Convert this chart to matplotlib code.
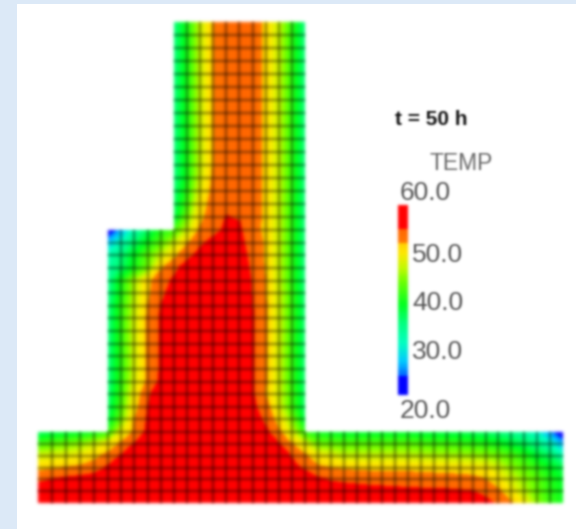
import numpy as np
import matplotlib
matplotlib.use('Agg')
import matplotlib.pyplot as plt
from matplotlib.colors import LinearSegmentedColormap, Normalize

# --- Mesh sections: (number of cells, total size) ---
X_SECTIONS = [(5, 70), (5, 66), (10, 131), (20, 258)]
Y_SECTIONS = [(6, 71), (16, 202), (16, 208)]

# --- Node temperatures, bottom row first ---
# base block: all 41 nodes
BASE_ROWS = [
    [58, 58, 58, 58, 58, 58, 58.5, 59, 59, 59, 59, 59, 59, 59, 59, 59, 59, 59, 59, 59, 59, 59, 59, 59, 59, 58.5, 58, 58, 58, 58, 57.5, 57, 56.8, 56.5, 56, 54.8, 52.3, 49.5, 45, 41.5, 39.5],
    [57, 57.5, 58, 58, 58, 58, 58.5, 58.5, 59, 59, 59, 59, 59, 59, 59, 59, 59, 59, 59, 58.5, 58, 57, 56.8, 56.6, 56.4, 56.2, 56.1, 56, 55.9, 55.8, 55.7, 55.7, 55.5, 55.3, 54.5, 52.5, 49.5, 46.5, 43.5, 41, 39],
    [54.6, 55.3, 56, 56.5, 57, 57.5, 58, 58.5, 58.5, 59, 59, 59, 59, 59, 59, 59, 59, 59, 58.5, 58, 57, 55.8, 55, 54.7, 54.5, 54.3, 54.2, 54, 53.8, 53.7, 53.5, 53.4, 53.3, 53, 52, 50, 47.5, 45, 43, 40.5, 38.5],
    [51, 51.5, 52, 52.5, 53.5, 55.7, 57, 58, 58.5, 59, 59, 59, 59, 59, 59, 59, 59, 59, 58, 56, 54.8, 52.5, 51.8, 51.5, 51.2, 51, 51, 51, 51, 50.8, 50.7, 50.5, 50.3, 50, 49.5, 47.5, 45, 43, 41, 39, 37],
    [47.5, 48, 48.5, 49.5, 51, 53, 55.5, 57, 58, 58.5, 59, 59, 59, 59, 59, 59, 59, 59, 57.5, 55, 52.5, 49.5, 48.5, 47, 47, 47, 47, 47, 46.8, 46.5, 46.2, 46, 45.8, 45.5, 45, 44, 42.5, 40.5, 38, 36, 32],
    [42, 43, 44, 45, 47, 49.5, 52.5, 55.5, 57.5, 58.5, 59, 59.5, 59.5, 59.5, 59.5, 59.5, 59.5, 58, 55.5, 52, 48, 44, 43.5, 43, 43, 43, 43, 43, 43, 42.5, 42, 42, 41.5, 41, 40.5, 39.5, 38, 36.5, 34.5, 31, 26],
    [36, 37, 37.5, 38, 39, 41, 48.5, 52.5, 56, 58, 59, 59.5, 59.5, 59.5, 59.5, 59.5, 59, 56, 52.5, 47.5, 41, 39, 38.5, 38, 38, 38, 38, 38, 38, 37.5, 37.5, 37, 37, 36.5, 36, 35, 34, 32.5, 30, 25, 20.5],
]
# shoulder block: 16 nodes, columns 5 to 20
SHOULDER_ROWS = [
    [37, 44, 52, 55.5, 57.5, 58.5, 59, 59.5, 59.5, 59.5, 59.5, 57, 54.5, 50.5, 44.5, 37],
    [36, 42.5, 50.5, 55.2, 57, 58.5, 59, 59.5, 59.5, 59.5, 59, 56, 53.5, 48, 42, 36],
    [35.5, 41.5, 49.5, 54.8, 57, 58, 59, 59.5, 59.5, 59.5, 59, 55.6, 51.8, 47.5, 42, 36],
    [35, 41, 48, 52.5, 56, 58, 59, 59, 59.5, 59.5, 58.5, 55.5, 52.2, 47.5, 41.5, 35.5],
    [35, 41, 47.5, 52.3, 55.6, 57.5, 58.5, 59, 59.5, 59.5, 58.5, 55.5, 52.2, 47.5, 41.5, 35.5],
    [35, 41, 47.5, 52.3, 55.6, 57.5, 58.5, 59, 59.5, 59.5, 58.5, 55.5, 52.2, 47.5, 41.5, 35.5],
    [35, 41, 47.5, 52.3, 55.6, 57.5, 58.5, 59, 59.5, 59.5, 58.5, 55.5, 52.2, 47.5, 41.5, 35.5],
    [35, 41, 47.5, 52.3, 55.6, 57.5, 58.5, 59, 59.5, 59.5, 58.5, 55.5, 52.2, 47.5, 41.5, 35.5],
    [35, 41, 47.5, 52.3, 55.6, 57.5, 58.5, 59, 59.5, 59.5, 58.5, 55.5, 52.2, 47.5, 41.5, 35.5],
    [35, 41, 47, 52, 55.3, 57, 58, 59, 59, 59, 58, 55.3, 52.2, 47.5, 41.5, 35.5],
    [34.5, 40, 46.5, 51.3, 54.7, 56.2, 57.5, 58.5, 59, 59, 58, 55.1, 52, 47.5, 41.5, 35.5],
    [34, 40, 46, 51, 54, 55.7, 57, 58, 58.5, 58.5, 57.5, 55, 52, 47, 41, 35],
    [33, 36, 40, 44, 51.5, 54.5, 56.5, 57.5, 58, 58, 57, 54.6, 51.7, 47, 41, 35],
    [32, 35, 39, 43, 47, 51, 54.5, 56, 57, 57.5, 56.5, 54.3, 51.5, 47, 41, 35],
    [27, 31.5, 36, 39.5, 43, 47, 51.5, 54.8, 56, 57, 56, 54, 51.5, 47, 41, 35],
    [20.5, 26, 32, 36, 40, 42, 47, 52.5, 54.5, 55.7, 55.6, 53.5, 51, 47, 41, 35],
]
# stem block: 16 nodes up to the top edge, columns 10 to 20
STEM_ROWS = [
    [37, 44, 51, 54, 55.3, 55.1, 54, 51, 47, 41, 35],
    [36, 42, 50, 53.5, 54.9, 54.9, 54.5, 51, 47, 41, 35],
    [35.5, 41, 48.5, 53, 54.5, 54.9, 54.5, 51, 47, 41, 35],
    [35, 40, 47.5, 52.5, 54.3, 54.8, 54.5, 51, 47, 41, 35],
    [35, 40, 47, 52, 54, 54.8, 54.5, 51, 47, 41, 35],
    [35, 40, 47, 52, 54, 54.8, 54.5, 51, 47, 41, 35],
    [35, 40, 47, 52, 54, 54.8, 54.5, 51, 47, 41, 35],
    [35, 40, 47, 52, 54, 54.8, 54.5, 51, 47, 41, 35],
    [35, 40, 47, 52, 54, 54.8, 54.5, 51, 47, 41, 35],
    [35, 40, 47, 52, 54, 54.8, 54.5, 51, 47, 41, 35],
    [35, 40, 47, 52, 54, 54.8, 54.5, 51, 47, 41, 35],
    [35, 40, 47, 52, 54, 54.8, 54.5, 51, 47, 41, 35],
    [35, 40, 47, 52, 54, 54.8, 54.5, 51, 47, 41, 35],
    [35, 40, 47, 52, 54, 54.8, 54.5, 51, 47, 41, 35],
    [35, 40, 47, 52, 54, 54.8, 54.5, 51, 47, 41, 35],
    [35, 40, 47, 52, 54, 54.8, 54.5, 51, 47, 41, 35],
]

# --- Colour scale ---
T_MIN = 20
T_MAX = 60
SCALE_STOPS = [20, 24, 24, 27, 31, 35, 39, 44, 47, 50, 52, 52, 55.2, 55.2, 60]
SCALE_COLORS = ['#0000ff', '#0000ff', '#0060ff', '#00c8ff', '#00ffc0', '#00ff80', '#00ff20', '#70ff00', '#c8f800',
                '#ffe800', '#ffd000', '#ff7800', '#ff6400', '#ff0000', '#ff0000']
BAR_VALUES = np.arange(20.25, 60, 0.5)
BAR_TICKS = ['60.0', '50.0', '40.0', '30.0', '20.0']


def blur(sigma):
    """Gaussian blur for agg_filter, so the marks and text stay real artists."""
    def _filter(image, dpi):
        pad = int(sigma * 4)
        padded = np.pad(image, [(pad, pad), (pad, pad), (0, 0)], 'constant')
        padded[:, :, :3] *= padded[:, :, 3:]
        k = np.arange(-pad, pad + 1)
        w = np.exp(-0.5 * (k / sigma) ** 2)
        w = w / w.sum()
        for axis in (0, 1):
            padded = sum(wi * np.roll(padded, ki, axis=axis) for ki, wi in zip(k, w))
        alpha = np.maximum(padded[:, :, 3:], 1e-4)
        padded[:, :, :3] = np.clip(padded[:, :, :3] / alpha, 0, 1)
        return padded, -pad, -pad
    return _filter


def section_edges(sections):
    edges = [0.0]
    for count, size in sections:
        for i in range(count):
            edges.append(edges[-1] + size / count)
    return np.array(edges)


x_nodes = section_edges(X_SECTIONS)
y_nodes = section_edges(Y_SECTIONS)

temp = np.full((len(y_nodes), len(x_nodes)), np.nan)
for r, row in enumerate(BASE_ROWS):
    temp[r, :41] = row
for r, row in enumerate(SHOULDER_ROWS):
    temp[r + 7, 5:21] = row
for r, row in enumerate(STEM_ROWS):
    temp[r + 23, 10:21] = row

stops = [(s - T_MIN) / (T_MAX - T_MIN) for s in SCALE_STOPS]
cmap = LinearSegmentedColormap.from_list('temp', list(zip(stops, SCALE_COLORS)), N=512)
norm = Normalize(T_MIN, T_MAX)

fig = plt.figure(figsize=(5.76, 5.29), dpi=100, facecolor='#dce9f7')
plt.rcParams['font.family'] = ['Liberation Sans', 'DejaVu Sans']

ax = fig.add_axes([17 / 576, 0, 559 / 576, 525 / 529])
ax.set_xlim(-21, 538)
ax.set_ylim(-26, 499)
ax.axis('off')
ax.add_patch(plt.Rectangle((0, 0), 1, 1, transform=ax.transAxes, color='white', zorder=0))

# --- Field ---
field = ax.contourf(x_nodes, y_nodes, temp, levels=np.arange(T_MIN, T_MAX + 0.25, 0.25),
                    cmap=cmap, norm=norm, corner_mask=False, zorder=1)
field.set_agg_filter(blur(1.8))

# --- Mesh lines: interior only, the outline of the part has no line ---
row_ids = list(range(1, 38))
row_first = [0] * 5 + [5] * 16 + [10] * 16
row_last = [40] * 5 + [20] * 32
h_lines = ax.hlines(y_nodes[row_ids], x_nodes[row_first], x_nodes[row_last],
                    colors='black', linewidth=1.6, alpha=0.47, zorder=2)
col_ids = list(range(1, 40))
col_tops = [6] * 5 + [22] * 5 + [38] * 9 + [6] * 20
v_lines = ax.vlines(x_nodes[col_ids], 0, y_nodes[col_tops],
                    colors='black', linewidth=1.6, alpha=0.47, zorder=2)
h_lines.set_agg_filter(blur(1.7))
v_lines.set_agg_filter(blur(1.7))

# --- Colour bar ---
cax = fig.add_axes([398 / 576, (529 - 395) / 529, 10 / 576, 190 / 529])
cax.axis('off')
bar = cax.pcolormesh([0, 1], np.arange(20, 60.5, 0.5), BAR_VALUES[:, None], cmap=cmap, norm=norm)
bar.set_agg_filter(blur(1.5))

# --- Text ---
labels = []
labels.append(fig.text(431 / 576, 1 - 120 / 529, 't = 50 h', fontsize=15, fontweight='bold',
                       color='#111111', ha='center', va='center'))
labels.append(fig.text(461 / 576, 1 - 163 / 529, 'TEMP', fontsize=16.5, color='#666666',
                       ha='center', va='center'))
tick_x = [400, 412, 412, 412, 400]
tick_y = [193, 255, 303, 352, 411]
for label, tx, ty in zip(BAR_TICKS, tick_x, tick_y):
    labels.append(fig.text(tx / 576, 1 - ty / 529, label, fontsize=19, color='#555555',
                           ha='left', va='center'))
for t in labels:
    t.set_agg_filter(blur(1.1))

fig.savefig('out.png', dpi=100, facecolor=fig.get_facecolor())
